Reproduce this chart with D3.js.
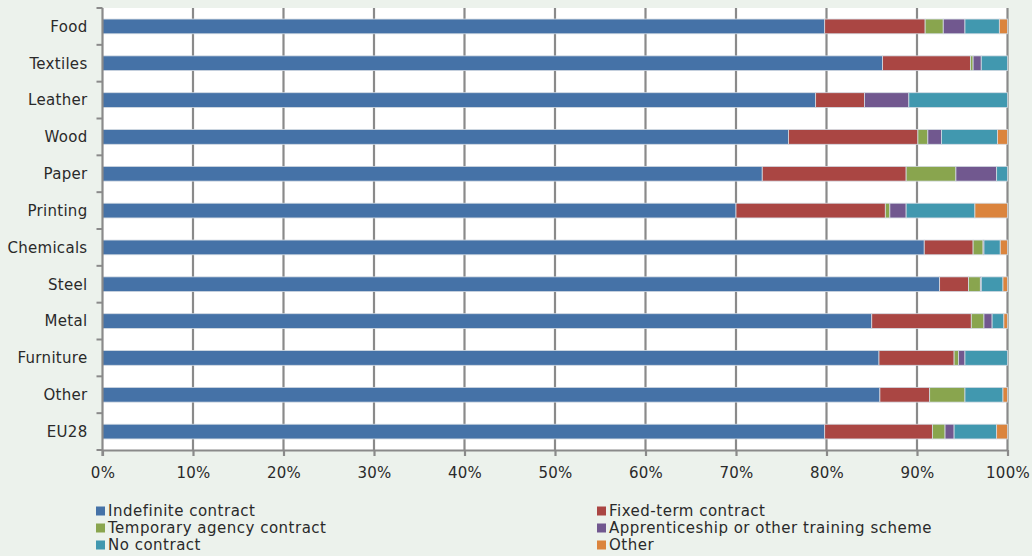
<!DOCTYPE html>
<html><head><meta charset="utf-8">
<script src="https://cdn.jsdelivr.net/npm/d3@7"></script>
<style>
html,body{margin:0;padding:0;background:#ECF2EC;}
svg{display:block;font-family:"DejaVu Sans",Verdana,sans-serif;}
</style></head>
<body><svg id="c" width="1032" height="556"></svg>
<script>
const categories = ["Food","Textiles","Leather","Wood","Paper","Printing","Chemicals","Steel","Metal","Furniture","Other","EU28"];
const seriesNames = ["Indefinite contract","Fixed-term contract","Temporary agency contract","Apprenticeship or other training scheme","No contract","Other"];
const indefinite = [79.8,86.2,78.8,75.8,72.9,70.0,90.8,92.5,85.0,85.8,85.9,79.8];
const fixedTerm  = [11.1, 9.7, 5.4,14.3,15.9,16.5, 5.4, 3.2,11.0, 8.3, 5.5,11.9];
const temporary  = [ 2.0, 0.3, 0.0, 1.1, 5.5, 0.5, 1.1, 1.3, 1.4, 0.5, 3.9, 1.4];
const apprentice = [ 2.4, 0.9, 4.9, 1.5, 4.5, 1.8, 0.1, 0.1, 0.9, 0.7, 0.0, 1.0];
const noContract = [ 3.8, 2.9,10.9, 6.2, 1.2, 7.6, 1.8, 2.4, 1.3, 4.7, 4.2, 4.7];
const otherC     = [ 0.9, 0.0, 0.0, 1.1, 0.0, 3.6, 0.8, 0.5, 0.4, 0.0, 0.5, 1.2];
const xTicks = [0,10,20,30,40,50,60,70,80,90,100];
const colors = ["#4572A7","#AA4643","#89A54E","#71588F","#4198AF","#DB843D"];

const seriesValues = [indefinite, fixedTerm, temporary, apprentice, noContract, otherC];
const rows = categories.map((c,i)=>{const r={cat:c}; seriesNames.forEach((s,j)=>r[s]=seriesValues[j][i]); return r;});
const stacked = d3.stack().keys(seriesNames)(rows);

const svg = d3.select("#c");
const L=102.5, R=1007.5, T=8, B=450;
const x = d3.scaleLinear().domain([0,100]).range([L,R]);
const y = d3.scaleBand().domain(categories).range([T,B]).paddingInner(0.6).paddingOuter(0.3);

svg.append("rect").attr("x",L).attr("y",T).attr("width",R-L).attr("height",B-T).attr("fill","#fff");

// gridlines
svg.append("g").selectAll("line").data(xTicks.slice(1)).join("line")
  .attr("x1",d=>x(d)).attr("x2",d=>x(d)).attr("y1",T).attr("y2",B)
  .attr("stroke","#8a8a8a").attr("stroke-width",2.2);

// bars
svg.append("g").selectAll("g").data(stacked).join("g")
  .attr("fill",(d,i)=>colors[i])
  .selectAll("rect").data(d=>d.filter(p=>p[1]-p[0]>0)).join("rect")
  .attr("x",p=>x(p[0])).attr("width",p=>x(p[1])-x(p[0]))
  .attr("y",p=>y(p.data.cat)).attr("height",y.bandwidth())
  .attr("stroke","#d4dbe3").attr("stroke-width",0.8);

// x axis
const xa = svg.append("g").attr("transform",`translate(0,${B})`)
  .call(d3.axisBottom(x).tickValues(xTicks).tickFormat(d=>d+"%").tickSize(6).tickSizeOuter(0));
xa.select(".domain").attr("stroke","#8a8a8a").attr("stroke-width",2.2);
xa.selectAll(".tick line").attr("stroke","#8a8a8a").attr("stroke-width",2.2);
xa.selectAll("text").attr("font-size",15).attr("letter-spacing",0.3).attr("fill","#2a2a2a").attr("font-family","DejaVu Sans").attr("dy","1.25em");

// y axis
const ya = svg.append("g").attr("transform",`translate(${L},0)`);
ya.append("line").attr("x1",0).attr("x2",0).attr("y1",T).attr("y2",B+6).attr("stroke","#8a8a8a").attr("stroke-width",2.2);
const bounds = d3.range(categories.length+1).map(i=>T+i*(B-T)/categories.length);
ya.selectAll(".tk").data(bounds).join("line").attr("class","tk")
  .attr("x1",-6).attr("x2",0).attr("y1",d=>d).attr("y2",d=>d)
  .attr("stroke","#8a8a8a").attr("stroke-width",2);
ya.selectAll("text").data(categories).join("text")
  .attr("x",-15).attr("y",d=>y(d)+y.bandwidth()/2).attr("dy","0.35em")
  .attr("text-anchor","end").attr("font-size",15).attr("letter-spacing",0.3).attr("fill","#2a2a2a").text(d=>d);

// legend
const legPos = [[96,511],[597,511],[96,528],[597,528],[96,545],[597,545]];
const lg = svg.append("g").selectAll("g").data(seriesNames).join("g")
  .attr("transform",(d,i)=>`translate(${legPos[i][0]},${legPos[i][1]})`);
lg.append("rect").attr("x",0).attr("y",-4.5).attr("width",9).attr("height",9).attr("fill",(d,i)=>colors[i]);
lg.append("text").attr("x",12).attr("dy","0.35em").attr("font-size",15).attr("letter-spacing",0.5).attr("fill","#2a2a2a").text(d=>d);
</script></body></html>
